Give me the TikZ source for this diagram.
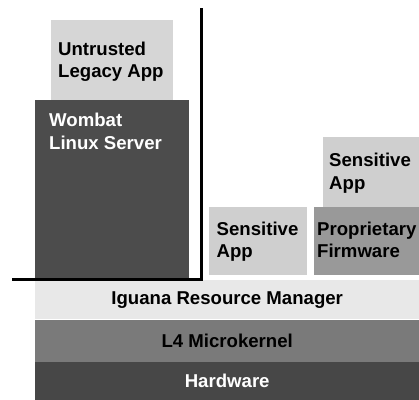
\documentclass[tikz,border=0pt]{standalone}
\usepackage{fontspec}
\setmainfont{Liberation Sans}
\begin{document}
\begin{tikzpicture}[x=1pt,y=-1pt,
  box/.style={draw=none,anchor=north west,inner sep=0pt},
  lbl/.style={anchor=north west,align=left,inner sep=0pt,font=\fontsize{18.6}{22.8}\selectfont\bfseries},
  band/.style={font=\fontsize{18.6}{20}\selectfont\bfseries},
  wall/.style={line width=3pt}]
\useasboundingbox (0,0) rectangle (419,399);
\fill[white] (0,0) rectangle (419,399);
% boxes
\node[box,fill=black!16,minimum width=122,minimum height=80] (untrusted) at (51,20) {};
\node[box,fill=black!70,minimum width=154,minimum height=178] (wombat) at (35,100) {};
\node[box,fill=black!19,minimum width=98,minimum height=68] (sens1) at (209,207) {};
\node[box,fill=black!40,minimum width=105,minimum height=68] (firm) at (314,207) {};
\node[box,fill=black!19,minimum width=96,minimum height=70] (sens2) at (323,137) {};
% bands
\node[box,fill=black!9,minimum width=384,minimum height=39] (iguana) at (35,280) {};
\node[box,fill=black!52,minimum width=384,minimum height=42] (l4) at (35,320) {};
\node[box,fill=black!72,minimum width=384,minimum height=38] (hw) at (35,362) {};
% labels
\node[lbl] (tu) at (58,41.5) {Untrusted\\Legacy App};
\node[lbl,text=white] (tw) at (49,113) {Wombat\\Linux Server};
\node[lbl] (ts1) at (216.5,221.5) {Sensitive\\App};
\node[lbl] (tf) at (317,221.5) {Proprietary\\Firmware};
\node[lbl] (ts2) at (329,153) {Sensitive\\App};
\node[band] at (iguana.center) {Iguana Resource Manager};
\node[band] at (l4.center) {L4 Microkernel};
\node[band,text=white] at (hw.center) {Hardware};
% wall
\coordinate (wt) at (201,8);
\coordinate (wc) at (201,279);
\coordinate (wl) at (12,279);
\draw[wall] (wt) -- (wc) -- (wl);
\end{tikzpicture}
\end{document}
